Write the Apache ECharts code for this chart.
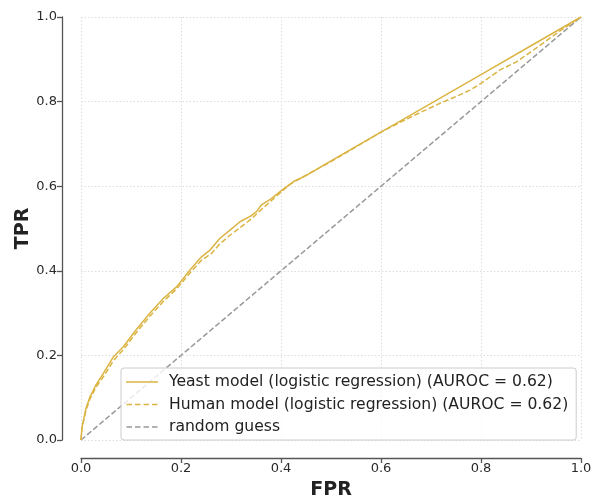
<!DOCTYPE html>
<html>
<head>
<meta charset="utf-8">
<script src="https://cdn.jsdelivr.net/npm/echarts@6/dist/echarts.min.js"></script>
<style>html,body{margin:0;padding:0;background:#fff;}#c{width:599px;height:502px;}</style>
</head>
<body>
<div id="c"></div>
<script>
const yeastFpr = [0, 0.002, 0.005, 0.01, 0.018, 0.03, 0.045, 0.065, 0.085, 0.11, 0.138, 0.165, 0.191, 0.22, 0.241, 0.258, 0.278, 0.298, 0.318, 0.34, 0.351, 0.361, 0.38, 0.398, 0.425, 0.45, 0.5, 0.6, 0.7, 0.8, 0.9, 1.0];
const yeastTpr = [0, 0.03, 0.047, 0.075, 0.102, 0.13, 0.158, 0.197, 0.221, 0.26, 0.30, 0.335, 0.362, 0.405, 0.433, 0.449, 0.477, 0.496, 0.516, 0.530, 0.540, 0.556, 0.570, 0.587, 0.611, 0.625, 0.660, 0.728, 0.796, 0.864, 0.932, 1.0];
const humanFpr = [0, 0.002, 0.005, 0.01, 0.018, 0.03, 0.045, 0.065, 0.085, 0.11, 0.138, 0.165, 0.191, 0.22, 0.241, 0.26, 0.278, 0.298, 0.318, 0.34, 0.36, 0.38, 0.40, 0.42, 0.45, 0.5, 0.55, 0.6, 0.64, 0.68, 0.718, 0.75, 0.778, 0.80, 0.838, 0.871, 0.905, 0.958, 1.0];
const humanTpr = [0, 0.028, 0.044, 0.07, 0.097, 0.125, 0.15, 0.188, 0.214, 0.253, 0.293, 0.328, 0.357, 0.398, 0.425, 0.44, 0.464, 0.484, 0.502, 0.522, 0.544, 0.565, 0.586, 0.606, 0.626, 0.658, 0.693, 0.728, 0.752, 0.775, 0.796, 0.812, 0.827, 0.843, 0.875, 0.894, 0.922, 0.967, 1.0];
const randomFpr = [0, 1];
const randomTpr = [0, 1];
const seriesNames = ['Yeast model (logistic regression) (AUROC = 0.62)', 'Human model (logistic regression) (AUROC = 0.62)', 'random guess'];

const zip = (a, b) => a.map((v, i) => [v, b[i]]);
const gold = '#dbb443';
const grey = '#999999';
const font = 'DejaVu Sans';
const solidIcon = 'path://M0,0H32V1.5H0Z';
const dashIcon = 'path://M0,0H5.5V1.5H0Z M8.5,0H14V1.5H8.5Z M17,0H22.5V1.5H17Z M25.5,0H31V1.5H25.5Z';
const chart = echarts.init(document.getElementById('c'), null, {renderer: 'canvas'});
const axisCommon = {
  type: 'value', min: 0, max: 1, interval: 0.2,
  axisLine: {show: true, onZero: false, lineStyle: {color: '#555', width: 1.3}},
  axisTick: {show: true, length: 5, lineStyle: {color: '#555', width: 1.3}},
  axisLabel: {color: '#2a2a2a', fontFamily: font, fontSize: 13, margin: 5, formatter: v => v.toFixed(1)},
  splitLine: {show: true, lineStyle: {color: '#dddddd', type: [1.5, 2], width: 1}},
  nameLocation: 'middle',
  nameTextStyle: {fontFamily: font, fontWeight: 'bold', fontSize: 19, color: '#222'}
};
chart.setOption({
  animation: false,
  backgroundColor: '#fff',
  grid: {left: 81, right: 18, top: 17, bottom: 62, containLabel: false, outerBoundsMode: 'none'},
  xAxis: Object.assign({}, axisCommon, {offset: 18, name: 'FPR', nameGap: 23, axisLabel: Object.assign({}, axisCommon.axisLabel, {margin: 4})}),
  yAxis: Object.assign({}, axisCommon, {offset: 19, name: 'TPR', nameGap: 29, nameMoveOverlap: false}),
  legend: {
    orient: 'vertical', left: 121, top: 368,
    backgroundColor: 'rgba(255,255,255,0.8)',
    borderColor: '#cccccc', borderWidth: 1, borderRadius: 3,
    padding: [6, 8, 5, 5],
    itemWidth: 32, itemHeight: 1.5, itemGap: 6.5,
    textStyle: {fontFamily: font, fontSize: 15.6, color: '#222', padding: [0, 0, 0, 6]},
    data: [
      {name: seriesNames[0], icon: solidIcon},
      {name: seriesNames[1], icon: dashIcon},
      {name: seriesNames[2], icon: dashIcon}
    ]
  },
  series: [
    {name: seriesNames[0], type: 'line', data: zip(yeastFpr, yeastTpr), symbol: 'none',
     lineStyle: {color: gold, width: 1.5}, itemStyle: {color: gold}, z: 3},
    {name: seriesNames[1], type: 'line', data: zip(humanFpr, humanTpr), symbol: 'none',
     lineStyle: {color: gold, width: 1.5, type: [5.5, 2.5]}, itemStyle: {color: gold}, z: 3},
    {name: seriesNames[2], type: 'line', data: zip(randomFpr, randomTpr), symbol: 'none',
     lineStyle: {color: grey, width: 1.5, type: [5.5, 2.5]}, itemStyle: {color: grey}, z: 2}
  ]
});
</script>
</body>
</html>
